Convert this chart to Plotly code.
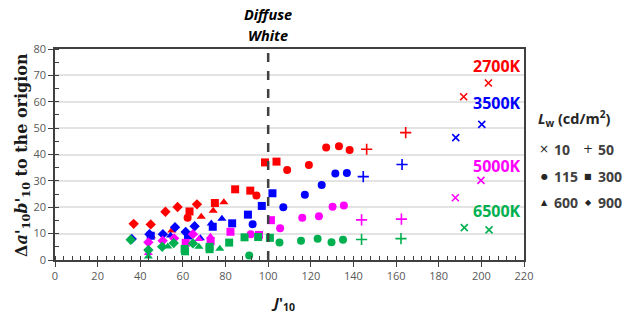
import plotly.graph_objects as go

# ---- data: J'10 (x), Δa'b' to origin (y), L_w (cd/m2) per CCT ----
k2700_J = [191.7, 203.3, 146.2, 164.5,
           62.2, 94.5, 108.9, 119.1, 127.2, 133.2, 138.2,
           63.1, 75.0, 84.5, 91.6, 98.5, 103.9,
           45.2, 54.8, 68.6, 74.2, 79.2,
           36.9, 44.9, 51.8, 57.5, 66.6]
k2700_C = [61.9, 67.1, 42.0, 48.3,
           16.0, 24.5, 34.1, 36.0, 42.7, 43.1, 41.7,
           18.4, 21.6, 26.8, 26.3, 37.0, 37.3,
           9.0, 11.2, 16.4, 18.7, 21.9,
           13.7, 13.5, 18.3, 20.1, 21.1]
k2700_L = [10, 10, 50, 50,
           115, 115, 115, 115, 115, 115, 115,
           300, 300, 300, 300, 300, 300,
           600, 600, 600, 600, 600,
           900, 900, 900, 900, 900]

k3500_J = [188.0, 200.2, 144.6, 162.8,
           92.7, 107.1, 117.2, 125.1, 131.5, 136.9,
           44.9, 62.4, 74.0, 83.1, 90.5, 97.0, 102.0,
           54.2, 68.2, 73.3, 78.3,
           36.0, 44.3, 50.6, 56.3, 61.3, 65.5]
k3500_C = [46.4, 51.4, 31.6, 36.2,
           13.6, 20.0, 24.7, 28.4, 32.8, 33.0,
           9.2, 9.3, 12.6, 13.9, 17.2, 20.5, 25.3,
           9.3, 8.2, 13.8, 15.6,
           8.0, 9.8, 9.8, 12.4, 10.6, 12.8]
k3500_L = [10, 10, 50, 50,
           115, 115, 115, 115, 115, 115,
           300, 300, 300, 300, 300, 300, 300,
           600, 600, 600, 600,
           900, 900, 900, 900, 900, 900]

k5000_J = [187.8, 199.8, 143.8, 162.5,
           91.8, 105.6, 116.0, 123.8, 130.2, 135.5,
           61.3, 73.0, 82.3, 95.7, 101.3,
           43.8, 67.5, 72.9,
           43.8, 50.5, 55.9, 64.7]
k5000_C = [23.6, 30.2, 15.2, 15.5,
           9.8, 12.0, 16.0, 16.6, 20.2, 20.7,
           6.5, 7.2, 10.7, 9.5, 15.1,
           2.7, 8.0, 8.8,
           6.7, 7.3, 8.2, 9.8]
k5000_L = [10, 10, 50, 50,
           115, 115, 115, 115, 115, 115,
           300, 300, 300, 300, 300,
           600, 600, 600,
           900, 900, 900, 900]

k6500_J = [192.0, 203.6, 143.8, 162.3,
           91.1, 105.3, 115.4, 123.2, 129.7, 135.1,
           60.8, 61.0, 72.5, 72.5, 81.7, 88.9, 95.3, 100.8,
           43.8, 52.9, 67.5, 77.3,
           35.5, 43.8, 50.3, 55.7, 64.7]
k6500_C = [12.3, 11.4, 7.8, 8.1,
           1.7, 6.6, 7.3, 8.1, 6.7, 7.7,
           4.2, 3.3, 5.0, 4.1, 6.6, 8.6, 8.7, 8.4,
           1.3, 5.1, 5.0, 4.3,
           7.7, 3.8, 5.0, 6.4, 6.3]
k6500_L = [10, 10, 50, 50,
           115, 115, 115, 115, 115, 115,
           300, 300, 300, 300, 300, 300, 300, 300,
           600, 600, 600, 600,
           900, 900, 900, 900, 900]

cct_names = ["2700K", "3500K", "5000K", "6500K"]
cct_colors = ["#ff0000", "#0000ff", "#ff00ff", "#00b050"]
cct_label_y = [73.5, 59.5, 35.5, 18.5]

lum_levels = [10, 50, 115, 300, 600, 900]
lum_symbols = ["x-thin", "cross-thin", "circle", "square", "triangle-up", "diamond"]
lum_sizes = [7, 8, 8, 8, 8, 8]
leg_sym = ["×", "+", "●", "■", "▲", "◆"]
leg_txt = ["10", "50", "115", "300", "600", "900"]

diffuse_white_J = 100

fig = go.Figure()

series = [(k2700_J, k2700_C, k2700_L), (k3500_J, k3500_C, k3500_L),
          (k5000_J, k5000_C, k5000_L), (k6500_J, k6500_C, k6500_L)]

for (J, C, L), name, col in zip(series, cct_names, cct_colors):
    for lv, sym, sz in zip(lum_levels, lum_symbols, lum_sizes):
        xs = [j for j, l in zip(J, L) if l == lv]
        ys = [c for c, l in zip(C, L) if l == lv]
        thin = sym.endswith("thin")
        fig.add_trace(go.Scatter(
            x=xs, y=ys, mode="markers", showlegend=False,
            name=f"{name} {lv}",
            marker=dict(symbol=sym, size=sz, color=col,
                        line=dict(color=col, width=1.6 if thin else 0)),
        ))

fig.add_shape(type="line", x0=diffuse_white_J, x1=diffuse_white_J, y0=0, y1=80,
              xref="x", yref="y", line=dict(color="#404040", width=2.5, dash="dash"))

W, H = 631 - 55 - 107, 331 - 49 - 71
def px(xp): return (xp - 55) / W
def py(yp): return (260 - yp) / H

for txt, yy in (("Diffuse", 15), ("White", 36)):
    fig.add_annotation(x=diffuse_white_J, y=py(yy), xref="x", yref="paper",
                       xanchor="center", yanchor="middle",
                       text=f"<b><i>{txt}</i></b>", showarrow=False,
                       font=dict(family="Open Sans", size=14.5, color="#000000"))

for name, col, yv in zip(cct_names, cct_colors, cct_label_y):
    fig.add_annotation(x=219.5, y=yv, xref="x", yref="y", xanchor="right", yanchor="middle",
                       text=f"<b>{name}</b>", showarrow=False,
                       font=dict(family="Open Sans", size=16, color=col))

# custom legend
fig.add_annotation(x=px(536), y=py(118), xref="paper", yref="paper", showarrow=False,
                   xanchor="left", yanchor="middle",
                   text="<b><i>L</i><sub>w</sub> (cd/m<sup>2</sup>)</b>",
                   font=dict(family="Open Sans", size=14.5, color="#262626"))
rows_y = [149, 176, 202]
for i, (s, t) in enumerate(zip(leg_sym, leg_txt)):
    r, c = divmod(i, 2)
    x0 = 544 if c == 0 else 588
    fig.add_annotation(x=px(x0), y=py(rows_y[r]), xref="paper", yref="paper", showarrow=False,
                       xanchor="center", yanchor="middle", text=s,
                       font=dict(family="DejaVu Sans", size=8 if s not in "×+" else 12, color="#262626"))
    fig.add_annotation(x=px(x0 + 8), y=py(rows_y[r]), xref="paper", yref="paper", showarrow=False,
                       xanchor="left", yanchor="middle", text=f"<b>{t}</b>",
                       font=dict(family="Open Sans", size=14, color="#404040"))

# axis titles
fig.add_annotation(x=px(22), y=py(155), xref="paper", yref="paper", showarrow=False,
                   xanchor="center", yanchor="middle", textangle=-90,
                   text="<b>Δ<i>a</i>'<sub>10</sub><i>b</i>'<sub>10</sub> to the origion</b>",
                   font=dict(family="DejaVu Serif", size=16, color="#1a1a1a"))
fig.add_annotation(x=px(283), y=py(303), xref="paper", yref="paper", showarrow=False,
                   xanchor="center", yanchor="middle",
                   text="<b><i>J</i>'<sub>10</sub></b>",
                   font=dict(family="Open Sans", size=15, color="#1a1a1a"))

fig.update_layout(
    width=631, height=331,
    margin=dict(l=55, r=107, t=49, b=71),
    paper_bgcolor="white", plot_bgcolor="white",
    showlegend=False,
    xaxis=dict(range=[0, 220], dtick=20, tick0=0, showgrid=False, zeroline=False,
               showline=True, linecolor="#404040", linewidth=1.5, mirror=True,
               ticks="outside", ticklen=5, tickwidth=1.2, tickcolor="#404040",
               minor=dict(dtick=4, ticks="inside", ticklen=4, tickwidth=1, tickcolor="#404040"),
               tickfont=dict(family="Open Sans", size=11, color="#595959")),
    yaxis=dict(range=[0, 80], dtick=10, tick0=0, showgrid=True, gridcolor="#e3e3e3",
               gridwidth=1.5, zeroline=False,
               showline=True, linecolor="#404040", linewidth=1.5, mirror=True,
               ticks="outside", ticklen=5, tickwidth=1.2, tickcolor="#404040",
               minor=dict(dtick=5, ticks="inside", ticklen=4, tickwidth=1, tickcolor="#404040", showgrid=False),
               tickfont=dict(family="Open Sans", size=11, color="#595959")),
)

fig.write_html("out.html")
